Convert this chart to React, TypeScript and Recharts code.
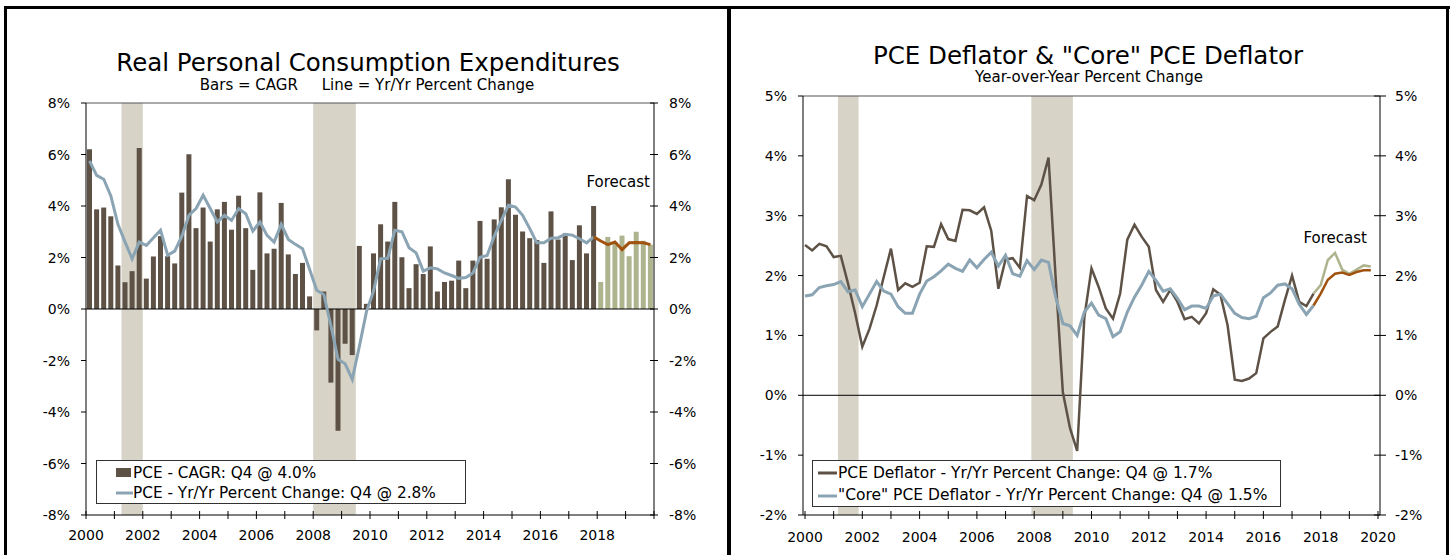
import React from "react";
import { Bar, Cell, ComposedChart, Line, ReferenceArea, ReferenceLine, XAxis, YAxis } from "recharts";

const years = [2000, 2001, 2002, 2003, 2004, 2005, 2006, 2007, 2008, 2009, 2010, 2011, 2012, 2013, 2014, 2015, 2016, 2017, 2018, 2019];
const quarters = years.flatMap((y) => ["Q1", "Q2", "Q3", "Q4"].map((q) => `${y}${q}`));
const yearTicks = [2000, 2001, 2002, 2003, 2004, 2005, 2006, 2007, 2008, 2009, 2010, 2011, 2012, 2013, 2014, 2015, 2016, 2017, 2018, 2019, 2020];
const leftYTicks = [-8, -6, -4, -2, 0, 2, 4, 6, 8];
const rightYTicks = [-2, -1, 0, 1, 2, 3, 4, 5];

// Real PCE, compound annual growth rate (bars), 2000Q1-2017Q4
const pceCagr = [
  6.2, 3.87, 3.94, 3.6,
  1.69, 1.04, 1.47, 6.25,
  1.18, 2.04, 2.83, 2.05,
  1.77, 4.52, 6.01, 3.14,
  3.94, 2.62, 3.87, 4.16,
  3.08, 4.4, 3.14, 1.52,
  4.53, 2.16, 2.34, 4.12,
  2.12, 1.36, 1.79, 0.49,
  -0.83, 0.68, -2.86, -4.73,
  -1.35, -1.79, 2.45, 0.2,
  2.16, 3.29, 2.62, 4.16,
  2.01, 0.81, 1.74, 1.36,
  2.43, 0.68, 1.05, 1.1,
  1.88, 0.81, 1.88, 3.42,
  1.95, 3.48, 3.95, 5.04,
  3.66, 3.01, 2.75, 2.68,
  1.79, 3.79, 2.7, 2.94,
  1.9, 3.25, 2.16, 4.0,
];
// forecast 2018Q1-2019Q4
const pceCagrFcst = [1.05, 2.8, 2.6, 2.85, 2.05, 3.0, 2.65, 2.5];

// Real PCE, year over year (line)
const pceYoy = [
  5.75, 5.19, 5.04, 4.39,
  3.29, 2.6, 1.95, 2.6,
  2.47, 2.77, 3.06, 2.09,
  2.25, 2.83, 3.64, 3.9,
  4.42, 3.9, 3.38, 3.64,
  3.44, 3.9, 3.7, 3.03,
  3.38, 2.86, 2.6, 3.29,
  2.7, 2.51, 2.34, 1.53,
  0.73, 0.56, -0.65, -1.95,
  -2.13, -2.73, -1.45, -0.1,
  0.7, 1.95, 1.97, 3.06,
  3.0, 2.38, 2.18, 1.47,
  1.6, 1.56, 1.4, 1.3,
  1.19, 1.22, 1.4, 2.01,
  2.08, 2.83, 3.44, 4.03,
  3.96, 3.64, 3.12, 2.57,
  2.57, 2.75, 2.77, 2.9,
  2.87, 2.73, 2.57, 2.8,
];
const pceYoyFcst = [2.64, 2.5, 2.6, 2.31, 2.57, 2.58, 2.57, 2.5];

// PCE deflator & core PCE deflator, year over year
const pceDefl = [
  2.51, 2.42, 2.53, 2.49, 2.31, 2.33,
  1.87, 1.37, 0.81, 1.11, 1.5, 1.98,
  2.45, 1.76, 1.87, 1.81, 1.88, 2.49,
  2.48, 2.86, 2.61, 2.58, 3.1, 3.09,
  3.03, 3.14, 2.75, 1.78, 2.27, 2.29,
  2.13, 3.33, 3.26, 3.52, 3.97, 1.95,
  0.05, -0.55, -0.93, 1.3, 2.12, 1.81,
  1.45, 1.28, 1.7, 2.6, 2.85, 2.65,
  2.48, 1.76, 1.56, 1.76, 1.56, 1.27,
  1.31, 1.2, 1.37, 1.77, 1.68, 1.17,
  0.26, 0.24, 0.28, 0.37, 0.95, 1.06,
  1.15, 1.59, 2.0, 1.56, 1.49, 1.7,
];
const pceDeflFcst = [1.84, 2.26, 2.38, 2.1, 2.03, 2.1, 2.17, 2.15];
const coreDefl = [
  1.66, 1.68, 1.8, 1.83, 1.85, 1.9,
  1.73, 1.76, 1.48, 1.69, 1.9, 1.74,
  1.69, 1.48, 1.37, 1.37, 1.69, 1.91,
  1.98, 2.08, 2.19, 2.12, 2.07, 2.26,
  2.13, 2.27, 2.39, 2.16, 2.34, 2.03,
  1.99, 2.25, 2.1, 2.26, 2.22, 1.64,
  1.2, 1.16, 1.0, 1.39, 1.54, 1.34,
  1.28, 0.98, 1.06, 1.39, 1.64, 1.84,
  2.07, 1.92, 1.74, 1.78, 1.62, 1.43,
  1.49, 1.49, 1.45, 1.66, 1.69, 1.53,
  1.37, 1.3, 1.28, 1.32, 1.63, 1.71,
  1.84, 1.86, 1.78, 1.52, 1.35, 1.5,
];
const coreDeflFcst = [1.7, 1.93, 2.03, 2.05, 2.01, 2.06, 2.09, 2.09];

const recessionsLeft = [[2001.25, 2002.0], [2008.0, 2009.5]];
const recessionsRight = [[2001.15, 2001.87], [2007.9, 2009.35]];

const DARK = "#5e5246";
const BLUE = "#8aa4b4";
const OLIVE = "#aeb48e";
const ORANGE = "#a0520f";
const SHADE = "#d7d3c7";
const FONT = "DejaVu Sans";

const nActual = pceCagr.length;

// bars sit in quarter bands, so the line points go to the band middles
const leftRows = quarters.map((q, i) => ({
  q,
  x: 2000 + i / 4 + 0.125,
  cagr: i < nActual ? pceCagr[i] : pceCagrFcst[i - nActual],
  fcst: i >= nActual,
  yoy: i < nActual ? pceYoy[i] : null,
  yoyF: i === nActual - 1 ? pceYoy[i] : i >= nActual ? pceYoyFcst[i - nActual] : null,
}));

const rightRows = quarters.map((q, i) => ({
  q,
  x: 2000 + i / 4,
  pce: i < nActual ? pceDefl[i] : null,
  core: i < nActual ? coreDefl[i] : null,
  pceF: i === nActual - 1 ? pceDefl[i] : i >= nActual ? pceDeflFcst[i - nActual] : null,
  coreF: i === nActual - 1 ? coreDefl[i] : i >= nActual ? coreDeflFcst[i - nActual] : null,
}));

const XTick = ({ x, y, payload, maxLabel, dy }: any) => {
  const v = payload.value;
  return (
    <g>
      <line x1={x} x2={x} y1={y - 4} y2={y + 4} stroke="#000" />
      {v % 2 === 0 && v <= maxLabel && (
        <text x={x} y={y + dy} textAnchor="middle" fontSize={14} fontFamily={FONT} fill="#000">
          {v}
        </text>
      )}
    </g>
  );
};

const LeftYTick = ({ x, y, payload }: any) => (
  <g>
    <line x1={x - 5} x2={x} y1={y} y2={y} stroke="#000" />
    <text x={x - 16} y={y + 5} textAnchor="end" fontSize={14} fontFamily={FONT} fill="#000">
      {payload.value}%
    </text>
  </g>
);

const RightYTick = ({ x, y, payload, half }: any) => (
  <g>
    <line x1={x - half} x2={x + half} y1={y} y2={y} stroke="#000" />
    <text x={x + 15} y={y + 5} textAnchor="start" fontSize={14} fontFamily={FONT} fill="#000">
      {payload.value}%
    </text>
  </g>
);

const LeftChart = () => (
  <ComposedChart width={728} height={555} data={leftRows} margin={{ top: 103, right: 24, bottom: 10, left: 36 }}>
    <XAxis xAxisId="cat" dataKey="q" type="category" hide height={0} />
    <XAxis
      xAxisId="yr"
      dataKey="x"
      type="number"
      domain={[2000, 2020]}
      ticks={yearTicks}
      interval={0}
      allowDataOverflow
      height={30}
      tickSize={0}
      tickMargin={0}
      tickLine={false}
      axisLine={{ stroke: "#000" }}
      tick={(p: any) => <XTick {...p} maxLabel={2018} dy={25} />}
    />
    <YAxis
      yAxisId="l"
      domain={[-8, 8]}
      ticks={leftYTicks}
      interval={0}
      allowDataOverflow
      width={50}
      tickSize={0}
      tickMargin={0}
      tickLine={false}
      axisLine={{ stroke: "#000" }}
      tick={(p: any) => <LeftYTick {...p} />}
    />
    <YAxis
      yAxisId="r"
      orientation="right"
      domain={[-8, 8]}
      ticks={leftYTicks}
      interval={0}
      allowDataOverflow
      width={50}
      tickSize={0}
      tickMargin={0}
      tickLine={false}
      axisLine={{ stroke: "#000" }}
      tick={(p: any) => <RightYTick {...p} half={4} />}
    />
    {recessionsLeft.map(([a, b]) => (
      <ReferenceArea key={a} xAxisId="yr" yAxisId="l" x1={a} x2={b} y1={-8} y2={8} fill={SHADE} fillOpacity={1} stroke="none" ifOverflow="hidden" />
    ))}
    <ReferenceLine xAxisId="yr" yAxisId="l" y={8} stroke="#555" />
    <Bar xAxisId="cat" yAxisId="l" dataKey="cagr" barSize={5} isAnimationActive={false}>
      {leftRows.map((r) => (
        <Cell key={r.q} fill={r.fcst ? OLIVE : DARK} />
      ))}
    </Bar>
    <ReferenceLine xAxisId="yr" yAxisId="l" y={0} stroke="#000" />
    <Line xAxisId="yr" yAxisId="l" dataKey="yoy" stroke={BLUE} strokeWidth={3} dot={false} isAnimationActive={false} />
    <Line xAxisId="yr" yAxisId="l" dataKey="yoyF" stroke={ORANGE} strokeWidth={3} dot={false} isAnimationActive={false} />
  </ComposedChart>
);

const RightChart = () => (
  <ComposedChart width={722} height={555} data={rightRows} margin={{ top: 96, right: 23, bottom: 10, left: 22 }}>
    <XAxis
      dataKey="x"
      type="number"
      domain={[1999.93, 2020.07]}
      ticks={yearTicks}
      interval={0}
      allowDataOverflow
      height={30}
      tickSize={0}
      tickMargin={0}
      tickLine={false}
      axisLine={{ stroke: "#000" }}
      tick={(p: any) => <XTick {...p} maxLabel={2020} dy={27} />}
    />
    <YAxis
      yAxisId="l"
      domain={[-2, 5]}
      ticks={rightYTicks}
      interval={0}
      allowDataOverflow
      width={50}
      tickSize={0}
      tickMargin={0}
      tickLine={false}
      axisLine={{ stroke: "#000" }}
      tick={(p: any) => <LeftYTick {...p} />}
    />
    <YAxis
      yAxisId="r"
      orientation="right"
      domain={[-2, 5]}
      ticks={rightYTicks}
      interval={0}
      allowDataOverflow
      width={50}
      tickSize={0}
      tickMargin={0}
      tickLine={false}
      axisLine={{ stroke: "#000" }}
      tick={(p: any) => <RightYTick {...p} half={6} />}
    />
    {recessionsRight.map(([a, b]) => (
      <ReferenceArea key={a} yAxisId="l" x1={a} x2={b} y1={-2} y2={5} fill={SHADE} fillOpacity={1} stroke="none" ifOverflow="hidden" />
    ))}
    <ReferenceLine yAxisId="l" y={5} stroke="#555" />
    <ReferenceLine yAxisId="l" y={0} stroke="#000" />
    <Line yAxisId="l" dataKey="pce" stroke={DARK} strokeWidth={2.5} dot={false} isAnimationActive={false} />
    <Line yAxisId="l" dataKey="core" stroke={BLUE} strokeWidth={3} dot={false} isAnimationActive={false} />
    <Line yAxisId="l" dataKey="pceF" stroke={OLIVE} strokeWidth={2.5} dot={false} isAnimationActive={false} />
    <Line yAxisId="l" dataKey="coreF" stroke={ORANGE} strokeWidth={2.5} dot={false} isAnimationActive={false} />
  </ComposedChart>
);

const Overlay = () => (
  <svg width={1453} height={555} style={{ position: "absolute", left: 0, top: 0, pointerEvents: "none" }} fontFamily={FONT}>
    <text x={368} y={71} textAnchor="middle" fontSize={24.5} fill="#000">Real Personal Consumption Expenditures</text>
    <text x={367} y={90} textAnchor="middle" fontSize={15} fill="#000" xmlSpace="preserve">
      {"Bars = CAGR     Line = Yr/Yr Percent Change"}
    </text>
    <text x={650} y={187} textAnchor="end" fontSize={15} fill="#000">Forecast</text>

    <text x={1088} y={64} textAnchor="middle" fontSize={24.5} fill="#000">PCE Deflator &amp; "Core" PCE Deflator</text>
    <text x={1089} y={82} textAnchor="middle" fontSize={15} fill="#000">Year-over-Year Percent Change</text>
    <text x={1367} y={243} textAnchor="end" fontSize={15} fill="#000">Forecast</text>

    <rect x={96.5} y={460.5} width={369} height={43} fill="#fff" stroke="#333" />
    <rect x={116} y={468} width={15} height={9} fill={DARK} />
    <text x={133} y={478} fontSize={15.3} fill="#000">PCE - CAGR: Q4 @ 4.0%</text>
    <line x1={116} x2={133} y1={493} y2={493} stroke={BLUE} strokeWidth={3} />
    <text x={133} y={498} fontSize={15.3} fill="#000">PCE - Yr/Yr Percent Change: Q4 @ 2.8%</text>

    <rect x={812.5} y={460.5} width={468} height={46} fill="#fff" stroke="#333" />
    <line x1={818} x2={837} y1={473} y2={473} stroke={DARK} strokeWidth={3} />
    <text x={838} y={478} fontSize={15.5} fill="#000">PCE Deflator - Yr/Yr Percent Change: Q4 @ 1.7%</text>
    <line x1={818} x2={837} y1={496} y2={496} stroke={BLUE} strokeWidth={3} />
    <text x={838} y={500} fontSize={15.5} fill="#000">"Core" PCE Deflator - Yr/Yr Percent Change: Q4 @ 1.5%</text>
  </svg>
);

const frame = (left: number, top: number, width: number, height: number) => (
  <div style={{ position: "absolute", left, top, width, height, background: "#000" }} />
);

export default function App() {
  return (
    <div style={{ position: "absolute", left: 0, top: 0, width: 1453, height: 555, background: "#fff", overflow: "hidden" }}>
      <div style={{ position: "absolute", left: 0, top: 0 }}>
        <LeftChart />
      </div>
      <div style={{ position: "absolute", left: 731, top: 0 }}>
        <RightChart />
      </div>
      <Overlay />
      {frame(4, 6, 1446, 3)}
      {frame(4, 6, 3, 549)}
      {frame(727, 6, 4, 549)}
      {frame(1446, 6, 3, 549)}
    </div>
  );
}
